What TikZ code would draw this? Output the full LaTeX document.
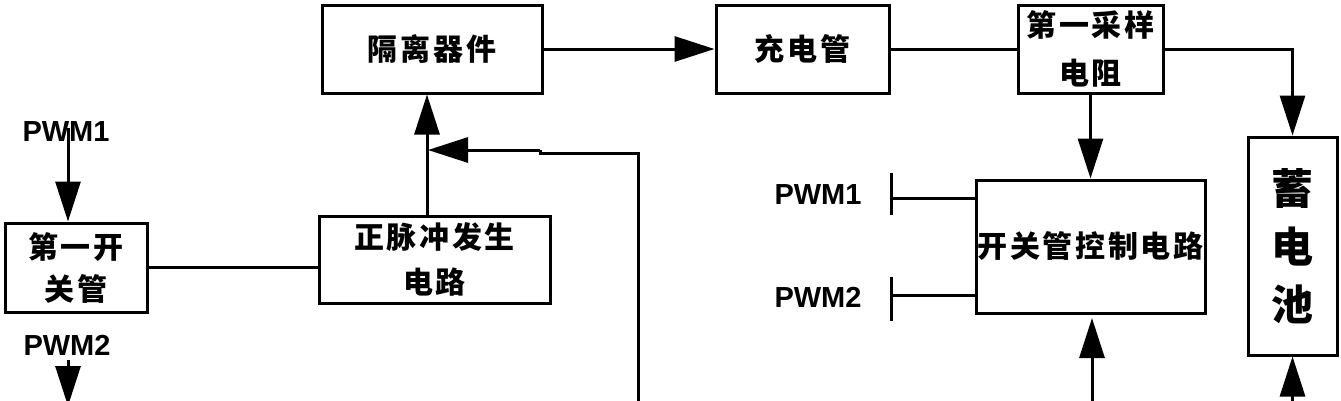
\documentclass[tikz,border=0pt]{standalone}
\usepackage{fontspec}
\newfontfamily\cjk{Noto Sans CJK SC}[LetterSpace=9]
\newfontfamily\cjkb{Noto Sans CJK SC}
\newfontfamily\lat{Liberation Sans}
\usetikzlibrary{arrows.meta}
\tikzset{
  blk/.style={draw, line width=3pt, inner sep=0pt, align=center,
    font=\cjk\bfseries\fontsize{30}{45}\selectfont},
  lbl/.style={inner sep=0pt, font=\lat\bfseries\fontsize{29}{30}\selectfont},
  ln/.style={line width=3pt},
  arr/.style={line width=3pt, -{Triangle[length=40pt,width=25pt]}}
}
\begin{document}
\begin{tikzpicture}[x=1pt,y=-1pt]
\useasboundingbox (0,0) rectangle (1341,400);
\clip (0,0) rectangle (1341,400);
% boxes
\node[blk, minimum width=142pt, minimum height=89pt,
  font=\cjk\bfseries\fontsize{30}{42}\selectfont] (k1) at (76,267.5) {第一开\\关管};
\node[blk, minimum width=220pt, minimum height=88pt] (gl) at (432,49) {隔离器件};
\node[blk, minimum width=231pt, minimum height=87pt] (zm) at (434.5,259.5) {正脉冲发生\\电路};
\node[blk, minimum width=173pt, minimum height=88pt] (cd) at (802.5,49) {充电管};
\node[blk, minimum width=145pt, minimum height=88pt,
  font=\cjk\bfseries\fontsize{30}{48}\selectfont] (cy) at (1090.5,49) {第一采样\\电阻};
\node[blk, minimum width=229pt, minimum height=133pt] (ctrl) at (1090.5,246.5) {开关管控制电路};
\node[blk, minimum width=89pt, minimum height=218pt,
  font=\cjkb\bfseries\fontsize{42}{58}\selectfont] (bat) at (1292.5,246) {蓄\\电\\池};
% labels
\node[lbl] (p1l) at (66,132) {PWM1};
\node[lbl] (p2l) at (67,345) {PWM2};
\node[lbl] (p1r) at (818,195) {PWM1};
\node[lbl] (p2r) at (818,297) {PWM2};
% left side
\draw[arr] (68,128) coordinate (a1) -- (a1 |- k1.north);
\coordinate (a2s) at (68,360);
\coordinate (a2e) at (68,406);
\draw[arr] (a2s) -- (a2e);
\draw[ln] (k1.east) -- (k1.east -| zm.west);
\coordinate (zmt) at (427,216);
\draw[arr] (zmt) -- (zmt |- gl.south);
% feedback
\coordinate (fb0) at (638,410);
\coordinate (fb1) at (638,153);
\coordinate (fb2) at (540,153);
\coordinate (fb3) at (540,150);
\coordinate (fb4) at (428,150);
\draw[ln] (fb0) -- (fb1) -- (fb2) -- (fb3);
\draw[arr] (fb3) -- (fb4);
% top chain
\draw[arr] (gl.east) -- (cd.west);
\draw[ln] (cd.east) -- (cy.west);
\draw[arr] (cy.east) -| (bat.north);
\draw[arr] (cy.south) -- (ctrl.north);
% PWM ticks
\coordinate (t1a) at (891,173);
\coordinate (t1b) at (891,215);
\coordinate (t1m) at (891,198);
\coordinate (t2a) at (891,277);
\coordinate (t2b) at (891,321);
\coordinate (t2m) at (891,295);
\draw[ln] (t1a) -- (t1b);
\draw[ln] (t2a) -- (t2b);
\draw[ln] (t1m) -- (t1m -| ctrl.west);
\draw[ln] (t2m) -- (t2m -| ctrl.west);
% bottom inputs
\coordinate (b1) at (1092,410);
\coordinate (b1t) at (1092,318);
\draw[arr] (b1) -- (b1t);
\coordinate (b2) at (1292.5,410);
\draw[arr] (b2) -- (bat.south);
\end{tikzpicture}
\end{document}
